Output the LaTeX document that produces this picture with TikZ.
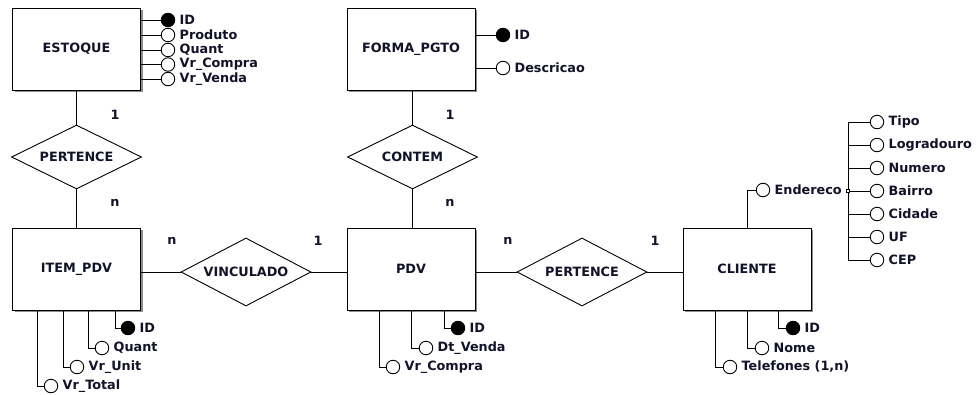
\documentclass[tikz,border=0pt]{standalone}
\usepackage{fontspec}
\setmainfont{DejaVu Sans}
\usetikzlibrary{shapes.geometric,shadows}
\definecolor{txt}{RGB}{18,18,40}
\definecolor{shd}{RGB}{140,140,140}
\begin{document}
\begin{tikzpicture}[x=1pt,y=-1pt,line width=0.9pt,
  every node/.style={font=\fontsize{12.8}{14}\selectfont\bfseries,text=txt},
  entity/.style={draw,fill=white,rectangle,minimum width=128,minimum height=82,inner sep=0,
    drop shadow={shadow xshift=2pt,shadow yshift=-2pt,fill=shd,opacity=1}},
  rel/.style={draw,fill=white,diamond,aspect=2,inner sep=0,minimum width=130,minimum height=#1},
  rel/.default=64,
  attr/.style={draw,circle,fill=white,minimum size=13.5,inner sep=0,
    label={[inner sep=1pt,label distance=3pt,text=txt]right:#1}},
  keyattr/.style={attr=#1,fill=black},
  card/.style={inner sep=0}]
\useasboundingbox (0,0) rectangle (980,394);

% entities
\node[entity] (est) at (76.5,49) {ESTOQUE};
\node[entity] (fp) at (411,49) {FORMA\_PGTO};
\node[entity] (ipdv) at (76.5,269) {ITEM\_PDV};
\node[entity] (pdv) at (411,269) {PDV};
\node[entity] (cli) at (747,269) {CLIENTE};

% relationships
\node[rel] (pert1) at (76.5,157) {PERTENCE};
\node[rel] (cont) at (412.5,157) {CONTEM};
\node[rel=68] (vinc) at (246,272) {VINCULADO};
\node[rel=68] (pert2) at (582,272) {PERTENCE};

% connectors
\draw (est) -- (pert1);
\draw (pert1) -- (ipdv);
\draw (fp.south -| cont) -- (cont);
\draw (cont) -- (pdv.north -| cont);
\draw (ipdv.east |- vinc) -- (vinc);
\draw (vinc) -- (pdv.west |- vinc);
\draw (pdv.east |- pert2) -- (pert2);
\draw (pert2) -- (cli.west |- pert2);

% cardinalities
\node[card] (c1) at (115,115) {1};
\node[card] (c2) at (115,203) {n};
\node[card] (c3) at (172,241) {n};
\node[card] (c4) at (318,241) {1};
\node[card] (c5) at (450,115) {1};
\node[card] (c6) at (450,203) {n};
\node[card] (c7) at (508,241) {n};
\node[card] (c8) at (655,241) {1};

% ESTOQUE attributes
\node[keyattr=ID] (e1) at (168,20) {};
\node[attr=Produto] (e2) at (168,35) {};
\node[attr=Quant] (e3) at (168,50) {};
\node[attr=Vr\_Compra] (e4) at (168,64.5) {};
\node[attr=Vr\_Venda] (e5) at (168,79) {};
\foreach \a in {e1,e2,e3,e4,e5} \draw (est.east |- \a) -- (\a);

% FORMA_PGTO attributes
\node[keyattr=ID] (f1) at (503,35) {};
\node[attr=Descricao] (f2) at (503,68) {};
\foreach \a in {f1,f2} \draw (fp.east |- \a) -- (\a);

% ITEM_PDV attributes
\node[keyattr=ID] (i1) at (128,328) {};
\node[attr=Quant] (i2) at (102,348) {};
\node[attr=Vr\_Unit] (i3) at (77,367) {};
\node[attr=Vr\_Total] (i4) at (51,386) {};
\draw ([xshift=103pt]ipdv.south west) |- (i1);
\draw ([xshift=76pt]ipdv.south west) |- (i2);
\draw ([xshift=51pt]ipdv.south west) |- (i3);
\draw ([xshift=25pt]ipdv.south west) |- (i4);

% PDV attributes
\node[keyattr=ID] (p1) at (458,328) {};
\node[attr=Dt\_Venda] (p2) at (426,348) {};
\node[attr=Vr\_Compra] (p3) at (393,367) {};
\draw ([xshift=98pt]pdv.south west) |- (p1);
\draw ([xshift=65pt]pdv.south west) |- (p2);
\draw ([xshift=33pt]pdv.south west) |- (p3);

% CLIENTE attributes
\node[keyattr=ID] (k1) at (793,328) {};
\node[attr=Nome] (k2) at (762,348) {};
\node[attr={Telefones (1,n)}] (k3) at (730,367) {};
\draw ([xshift=96pt]cli.south west) |- (k1);
\draw ([xshift=65pt]cli.south west) |- (k2);
\draw ([xshift=33pt]cli.south west) |- (k3);

% Endereco composite attribute
\node[attr=Endereco] (end) at (763,190) {};
\draw ([xshift=65pt]cli.north west) |- (end);
\node[draw,rectangle,minimum size=3.5,inner sep=0,fill=white,line width=0.7pt] (hub) at (848,191) {};
\node[attr=Tipo] (s1) at (877,122) {};
\node[attr=Logradouro] (s2) at (877,145) {};
\node[attr=Numero] (s3) at (877,168) {};
\node[attr=Bairro] (s4) at (877,191) {};
\node[attr=Cidade] (s5) at (877,214) {};
\node[attr=UF] (s6) at (877,237) {};
\node[attr=CEP] (s7) at (877,260) {};
\draw (hub |- s1) -- (hub.north);
\draw (hub.south) -- (hub |- s7);
\foreach \a in {s1,s2,s3,s5,s6,s7} \draw (hub |- \a) -- (\a);
\draw (hub.east) -- (s4);
\end{tikzpicture}
\end{document}
